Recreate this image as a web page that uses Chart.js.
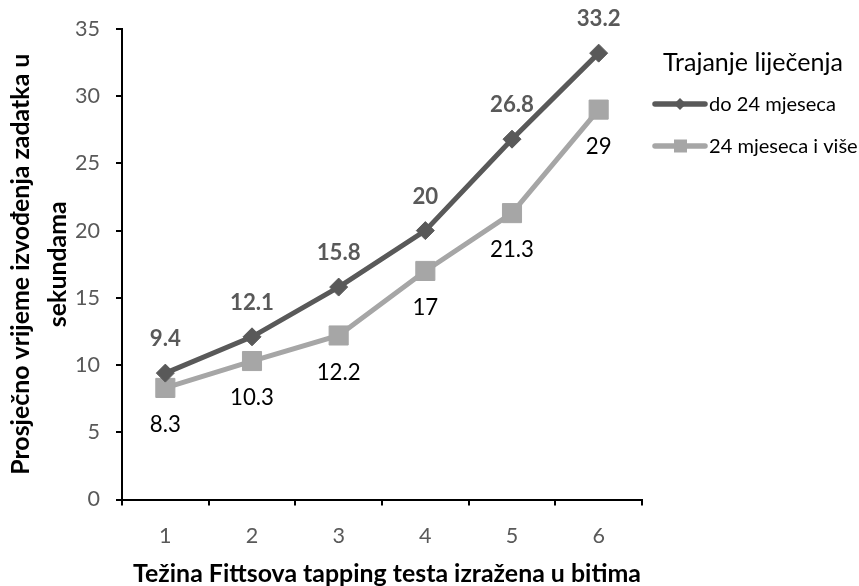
<!DOCTYPE html>
<html><head><meta charset="utf-8">
<script src="https://cdn.jsdelivr.net/npm/chart.js@4/dist/chart.umd.min.js"></script>
<style>html,body{margin:0;padding:0;background:#fff}canvas{display:block}</style>
</head><body>
<canvas id="c" width="859" height="586"></canvas>
<script>
// ---- data ----
const categories = ['1', '2', '3', '4', '5', '6'];
const seriesNames = ['do 24 mjeseca', '24 mjeseca i više'];
const seriesUnder24 = [9.4, 12.1, 15.8, 20, 26.8, 33.2];
const series24Plus = [8.3, 10.3, 12.2, 17, 21.3, 29];
const yTickMin = 0, yTickMax = 35, yTickStep = 5;
const legendTitle = 'Trajanje liječenja';
const xTitle = 'Težina Fittsova tapping testa izražena u bitima';
const yTitle = ['Prosječno vrijeme izvođenja zadatka u', 'sekundama'];

// ---- styles ----
const FONT = 'Lato';
const DARK = '#595959', LIGHT = '#A6A6A6';

// choose font sizes so that text widths match the reference
const mctx = document.createElement('canvas').getContext('2d');
function fit(text, weight, target) {
  mctx.font = weight + ' 100px ' + FONT;
  return 100 * target / mctx.measureText(text).width;
}
const SZ_TITLE = fit(xTitle, 'bold', 508);
const SZ_TICK = fit('35', 'normal', 25);
const SZ_LABEL = fit('15.8', 'bold', 44);
const SZ_LEGTITLE = fit(legendTitle, 'normal', 180);
const SZ_LEGITEM = fit(seriesNames[0], 'normal', 127);
const X_TICK_PAD = 535 + 0.04 * SZ_TICK - 505.5 - 0.6 * SZ_TICK;

const dataLabels = {
  id: 'dataLabels',
  afterDatasetsDraw(chart) {
    const ctx = chart.ctx;
    chart.data.datasets.forEach((ds, i) => {
      const meta = chart.getDatasetMeta(i);
      meta.data.forEach((pt, j) => {
        ctx.save();
        ctx.font = (ds.labelBold ? 'bold ' : '') + SZ_LABEL + 'px ' + FONT;
        ctx.fillStyle = ds.labelColor;
        ctx.textAlign = 'center';
        ctx.textBaseline = 'middle';
        ctx.fillText(String(ds.data[j]), pt.x, pt.y + ds.labelOffset);
        ctx.restore();
      });
    });
  }
};

const axisTitles = {
  id: 'axisTitles',
  afterDraw(chart) {
    const ctx = chart.ctx;
    const area = chart.chartArea;
    ctx.save();
    ctx.fillStyle = '#000';
    ctx.font = 'bold ' + SZ_TITLE + 'px ' + FONT;
    ctx.textAlign = 'center';
    ctx.textBaseline = 'alphabetic';
    ctx.fillText(xTitle, 387, 582);
    ctx.textBaseline = 'middle';
    const cy = (area.top + area.bottom) / 2;
    const xs = [21, 58];
    yTitle.forEach((t, i) => {
      ctx.save();
      ctx.translate(xs[i], cy);
      ctx.rotate(-Math.PI / 2);
      ctx.fillText(t, 0, 0);
      ctx.restore();
    });
    ctx.restore();
  }
};

const sideLegend = {
  id: 'sideLegend',
  afterDraw(chart) {
    const ctx = chart.ctx;
    ctx.save();
    ctx.fillStyle = '#000';
    ctx.font = SZ_LEGTITLE + 'px ' + FONT;
    ctx.textAlign = 'left';
    ctx.textBaseline = 'middle';
    ctx.fillText(legendTitle, 663, 63);
    const rows = [104, 146];
    chart.data.datasets.forEach((ds, i) => {
      const y = rows[i];
      ctx.strokeStyle = ds.borderColor;
      ctx.lineWidth = 5.5;
      ctx.lineCap = 'round';
      ctx.beginPath(); ctx.moveTo(655, y); ctx.lineTo(705, y); ctx.stroke();
      ctx.fillStyle = ds.borderColor;
      ctx.beginPath();
      if (ds.pointStyle === 'rectRot') {
        ctx.moveTo(680, y - 6); ctx.lineTo(686, y); ctx.lineTo(680, y + 6); ctx.lineTo(674, y);
        ctx.closePath();
      } else {
        ctx.rect(674, y - 6.5, 13, 13);
      }
      ctx.fill();
      ctx.fillStyle = '#000';
      ctx.font = SZ_LEGITEM + 'px ' + FONT;
      ctx.fillText(ds.label, 709, y + 1);
    });
    ctx.restore();
  }
};

new Chart(document.getElementById('c'), {
  type: 'line',
  data: {
    labels: categories,
    datasets: [
      {
        label: seriesNames[0], data: seriesUnder24,
        borderColor: DARK, backgroundColor: DARK, borderWidth: 5,
        pointStyle: 'rectRot', pointRadius: 9, pointBorderWidth: 1,
        labelColor: DARK, labelBold: true, labelOffset: -34
      },
      {
        label: seriesNames[1], data: series24Plus,
        borderColor: LIGHT, backgroundColor: LIGHT, borderWidth: 5,
        pointStyle: 'rect', pointRadius: 13.5, pointBorderWidth: 1,
        labelColor: '#000', labelBold: false, labelOffset: 37
      }
    ]
  },
  options: {
    responsive: false,
    animation: false,
    events: [],
    layout: { padding: { top: 28, right: 217, left: 0, bottom: 0 } },
    plugins: { legend: { display: false }, tooltip: { enabled: false } },
    scales: {
      x: {
        type: 'category',
        offset: true,
        grid: { offset: true, drawOnChartArea: false, drawTicks: true, tickLength: 6, color: '#000', lineWidth: 2 },
        border: { color: '#000', width: 2 },
        ticks: { color: DARK, font: { family: FONT, size: SZ_TICK }, padding: X_TICK_PAD },
        title: { display: false },
        afterFit(s) { s.height = 86.5; }
      },
      y: {
        type: 'linear',
        min: yTickMin, max: yTickMax,
        grid: { drawOnChartArea: false, drawTicks: true, tickLength: 6, color: '#000', lineWidth: 2 },
        border: { color: '#000', width: 2 },
        ticks: { stepSize: yTickStep, color: DARK, font: { family: FONT, size: SZ_TICK }, padding: 16 },
        title: { display: false },
        afterFit(s) { s.width = 122; }
      }
    }
  },
  plugins: [dataLabels, axisTitles, sideLegend]
});
</script>
</body></html>
